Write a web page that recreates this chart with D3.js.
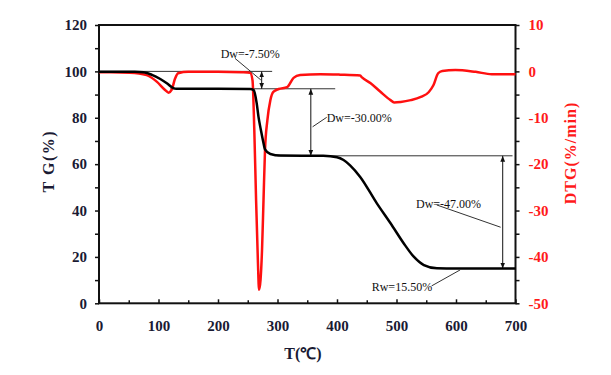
<!DOCTYPE html>
<html>
<head>
<meta charset="utf-8">
<script src="https://cdn.jsdelivr.net/npm/d3@7"></script>
<style>
  body { margin: 0; background: #fff; }
  svg text { font-family: "Liberation Serif", "Times New Roman", serif; }
</style>
</head>
<body>
<div id="chart"></div>
<script>
// TG curve (black), temperature in C, mass in %
const tgTemp = [0, 60, 75, 89, 103, 114, 125, 130, 200, 254, 260, 265, 268, 272, 276, 279, 288, 305, 377, 400, 411, 422, 439, 467, 490, 512, 529, 546, 568, 600, 700];
const tgMass = [99.8, 99.8, 99.6, 98.5, 96.7, 94.9, 92.8, 92.5, 92.5, 92.4, 91.9, 86.3, 80.5, 74.8, 69.7, 66.4, 64.4, 63.7, 63.6, 63.0, 61.8, 59.5, 54.5, 43.1, 34.5, 25.9, 20.1, 16.5, 15.1, 15.0, 15.0];

// DTG curve (red), %/min
const dtgTemp = [0, 20, 52, 80, 97, 111, 117, 122, 128, 133, 150, 200, 240, 254, 258, 261, 264, 267, 269, 274, 276.5, 279, 283, 288, 293, 302, 316, 327, 338, 372, 405, 439, 442, 456, 473, 490, 496, 507, 524, 541, 554, 562, 570, 577, 599, 633, 660, 694, 700];
const dtgRate = [-0.2, -0.2, -0.3, -0.8, -2.2, -4.0, -4.6, -4.0, -1.5, -0.4, -0.1, -0.1, -0.2, -0.3, -1.9, -12.6, -27.7, -40.7, -47.1, -38.5, -27.7, -17.0, -10.5, -6.2, -4.4, -3.8, -3.4, -1.4, -0.8, -0.6, -0.7, -0.9, -1.3, -2.5, -4.4, -6.2, -6.7, -6.6, -6.2, -5.5, -4.5, -3.0, -0.4, 0.1, 0.3, -0.1, -0.6, -0.6, -0.6];

const xTicks = [0, 100, 200, 300, 400, 500, 600, 700];
const tgTicks = [0, 20, 40, 60, 80, 100, 120];
const dtgTicks = [-50, -40, -30, -20, -10, 0, 10];

// mass-loss annotations (in TG units)
const refLines = [
  { t0: 0, t1: 291, v: 100 },
  { t0: 120, t1: 397, v: 92.5 },
  { t0: 300, t1: 695, v: 63.6 },
  { t0: 560, t1: 697, v: 15 }
];
const arrows = [
  { t: 273.4, v0: 100, v1: 92.5 },
  { t: 356, v0: 92.5, v1: 63.6 },
  { t: 678.5, v0: 63.6, v1: 15 }
];
const notes = [
  { text: "Dw=-7.50%", t: 204.5, v: 107.5, lt0: 228.6, lv0: 105.6, lt1: 272, lv1: 96.3 },
  { text: "Dw=-30.00%", t: 382.7, v: 79.8, lt0: 382.7, lv0: 80.2, lt1: 359, lv1: 76.1 },
  { text: "Dw=-47.00%", t: 532.8, v: 43.1, lt0: 567.6, lv0: 42.4, lt1: 675, lv1: 32.8 },
  { text: "Rw=15.50%", t: 458.3, v: 7.2, lt0: 559, lv0: 7.5, lt1: 607, lv1: 14.4 }
];

const W = 611, H = 375;
const plotL = 99, plotR = 515.5, plotT = 25, plotB = 303.3;
const ink = "#1a1a33";
const plain = d => String(d);

const svg = d3.select("#chart").append("svg")
  .attr("width", W).attr("height", H);

const x = d3.scaleLinear().domain([0, 700]).range([plotL, plotR]);
const yTG = d3.scaleLinear().domain([0, 120]).range([plotB, plotT]);
const yDTG = d3.scaleLinear().domain([-50, 10]).range([plotB, plotT]);

svg.append("defs").append("marker")
  .attr("id", "head")
  .attr("viewBox", "0 -5 10 10")
  .attr("refX", 10).attr("refY", 0)
  .attr("markerWidth", 6).attr("markerHeight", 6)
  .attr("markerUnits", "userSpaceOnUse")
  .attr("orient", "auto-start-reverse")
  .append("path").attr("d", "M0,-4L10,0L0,4Z").attr("fill", "#111");

// axes
const gLeft = svg.append("g").attr("transform", `translate(${plotL},0)`)
  .call(d3.axisLeft(yTG).tickValues(tgTicks).tickFormat(plain).tickSize(4).tickPadding(8));
svg.append("g").attr("transform", `translate(${plotL},0)`)
  .call(d3.axisLeft(yTG).tickValues(d3.range(10, 120, 20)).tickSize(4).tickFormat(""));

const gRight = svg.append("g").attr("transform", `translate(${plotR},0)`)
  .call(d3.axisRight(yDTG).tickValues(dtgTicks).tickFormat(plain).tickSize(4).tickPadding(9));
svg.append("g").attr("transform", `translate(${plotR},0)`)
  .call(d3.axisRight(yDTG).tickValues(d3.range(-45, 10, 10)).tickSize(4).tickFormat(""));

const gBottom = svg.append("g").attr("transform", `translate(0,${plotB})`)
  .call(d3.axisBottom(x).tickValues(xTicks).tickFormat(plain).tickSize(-4).tickPadding(17));
svg.append("g").attr("transform", `translate(0,${plotB})`)
  .call(d3.axisBottom(x).tickValues(d3.range(50, 700, 100)).tickSize(-3).tickFormat(""));

svg.selectAll(".domain").remove();
svg.selectAll(".tick line").attr("stroke", "#111").attr("stroke-width", 1.5);
svg.selectAll(".tick text").attr("font-size", 15).attr("font-weight", "bold")
  .attr("font-family", "Liberation Serif, serif");
gLeft.selectAll("text").attr("fill", ink);
gBottom.selectAll("text").attr("fill", ink);
gRight.selectAll("text").attr("fill", "#ff1a1a");

// frame
svg.append("rect")
  .attr("x", plotL).attr("y", plotT)
  .attr("width", plotR - plotL).attr("height", plotB - plotT)
  .attr("fill", "none").attr("stroke", "#111").attr("stroke-width", 2);

// annotation lines
svg.append("g").selectAll("line").data(refLines).join("line")
  .attr("x1", d => x(d.t0)).attr("x2", d => x(d.t1))
  .attr("y1", d => yTG(d.v)).attr("y2", d => yTG(d.v))
  .attr("stroke", "#333").attr("stroke-width", 1);

svg.append("g").selectAll("line").data(arrows).join("line")
  .attr("x1", d => x(d.t)).attr("x2", d => x(d.t))
  .attr("y1", d => yTG(d.v0)).attr("y2", d => yTG(d.v1))
  .attr("stroke", "#111").attr("stroke-width", 1)
  .attr("marker-start", "url(#head)").attr("marker-end", "url(#head)");

// curves
const tgLine = d3.line().x(d => x(d[0])).y(d => yTG(d[1])).curve(d3.curveMonotoneX);
const dtgLine = d3.line().x(d => x(d[0])).y(d => yDTG(d[1])).curve(d3.curveMonotoneX);

svg.append("path")
  .datum(d3.zip(dtgTemp, dtgRate))
  .attr("d", dtgLine)
  .attr("fill", "none").attr("stroke", "#ff1010").attr("stroke-width", 2.5)
  .attr("stroke-linejoin", "round");

svg.append("path")
  .datum(d3.zip(tgTemp, tgMass))
  .attr("d", tgLine)
  .attr("fill", "none").attr("stroke", "#000").attr("stroke-width", 2.5)
  .attr("stroke-linejoin", "round");

// notes with leader lines
svg.append("g").selectAll("line").data(notes).join("line")
  .attr("x1", d => x(d.lt0)).attr("y1", d => yTG(d.lv0))
  .attr("x2", d => x(d.lt1)).attr("y2", d => yTG(d.lv1))
  .attr("stroke", "#333").attr("stroke-width", 1);

svg.append("g").selectAll("text").data(notes).join("text")
  .attr("x", d => x(d.t)).attr("y", d => yTG(d.v))
  .attr("dy", "0.35em")
  .attr("font-size", 12)
  .attr("fill", "#111")
  .text(d => d.text);

// axis titles
svg.append("text")
  .attr("transform", `translate(48,${(plotT + plotB) / 2 - 3}) rotate(-90)`)
  .attr("text-anchor", "middle").attr("dy", "0.35em")
  .attr("font-size", 16).attr("font-weight", "bold")
  .attr("letter-spacing", 1.5)
  .attr("fill", ink)
  .text("T G(%)");

svg.append("text")
  .attr("transform", `translate(570,153) rotate(-90)`)
  .attr("text-anchor", "middle").attr("dy", "0.35em")
  .attr("font-size", 16).attr("font-weight", "bold")
  .attr("letter-spacing", 1)
  .attr("fill", "#ff1a1a")
  .text("DTG(%/min)");

svg.append("text")
  .attr("x", 303).attr("y", 359)
  .attr("text-anchor", "middle")
  .attr("font-size", 16).attr("font-weight", "bold")
  .attr("fill", ink)
  .text("T(℃)");
</script>
</body>
</html>
